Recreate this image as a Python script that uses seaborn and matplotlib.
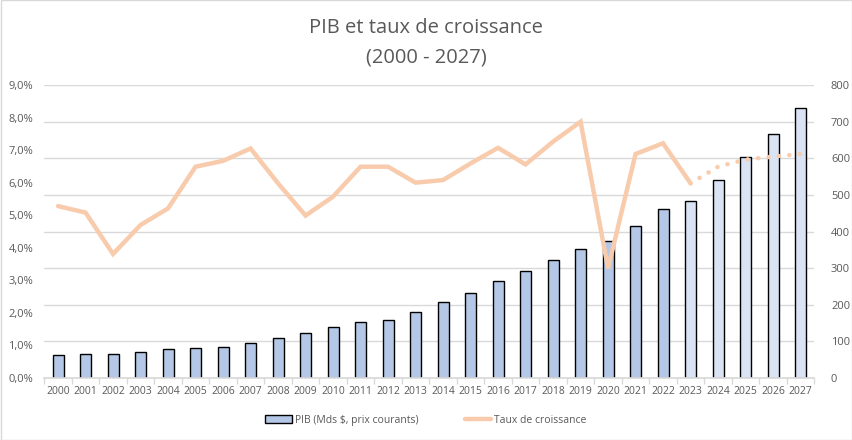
import numpy as np
import pandas as pd
import matplotlib
matplotlib.use("Agg")
import matplotlib.pyplot as plt
import seaborn as sns
from matplotlib.patches import Patch, Rectangle
from matplotlib.lines import Line2D
from matplotlib.ticker import FuncFormatter, FixedLocator

years = list(range(2000, 2028))
gdp = [62, 65, 65, 70, 78, 81, 84, 95, 108, 122, 138, 152, 157, 179,
       207, 231, 264, 291, 321, 351, 373, 414, 461, 482, 540, 603, 665, 736]
growth = [5.28, 5.08, 3.81, 4.70, 5.21, 6.49, 6.67, 7.05, 5.98, 4.99, 5.57, 6.49, 6.49, 6.00,
          6.08, 6.59, 7.07, 6.56, 7.26, 7.87, 3.37, 6.88, 7.21, 5.98, 6.49, 6.71, 6.80, 6.88]
first_forecast_bar = 2023
first_forecast_line = 2023

sns.set_theme(style="white")
plt.rcParams['font.family'] = ['Open Sans', 'DejaVu Sans']
txt = "#595959"

df = pd.DataFrame({"year": [str(y) for y in years], "gdp": gdp, "growth": growth})
colors = ["#b4c7e7" if y < first_forecast_bar else "#dae3f3" for y in years]

fig = plt.figure(figsize=(8.52, 4.40), dpi=100)
ax = fig.add_axes([44.3/852, 1-378/440, (814.3-44.3)/852, (378-85)/440])

sns.barplot(data=df, x="year", y="gdp", hue="year", palette=colors, legend=False,
            edgecolor="black", linewidth=1.0, width=0.4, saturation=1, ax=ax, zorder=2)
ax2 = ax.twinx()

ax.set_ylim(0, 800)
ax.set_xlim(-0.5, len(years) - 0.5)
ax.yaxis.tick_right()
ax.set_yticks(range(0, 801, 100))
ax.grid(axis="y", color="#d9d9d9", linewidth=1, zorder=0)
ax.set_axisbelow(True)
ax.set_xlabel("")
ax.set_ylabel("")
for s in ["top", "left", "right"]:
    ax.spines[s].set_visible(False)
ax.spines["bottom"].set_color("#d9d9d9")
ax.tick_params(axis="y", which="both", length=0, labelsize=8, labelcolor=txt, pad=12,
               left=False, labelleft=False, right=False, labelright=True)
ax.tick_params(axis="x", which="major", length=0, labelsize=7.5, labelcolor=txt, pad=6)
ax.xaxis.set_minor_locator(FixedLocator(np.arange(-0.5, len(years), 1.0)))
ax.tick_params(axis="x", which="minor", length=4, color="#d9d9d9", bottom=True)

x = np.arange(len(years))
k = years.index(first_forecast_line)
ax2.plot(x[:k+1], growth[:k+1], color="#f8cbad", linewidth=3.2, solid_joinstyle="miter", zorder=3)
ax2.plot(x[k:], growth[k:], color="#f8cbad", linewidth=3.2, linestyle=(0, (0.05, 2.3)),
         dash_capstyle="round", zorder=3)
ax2.set_ylim(0, 9)
ax2.set_yticks(range(0, 10))
ax2.yaxis.set_major_formatter(FuncFormatter(lambda v, p: f"{v:.1f}%".replace(".", ",")))
ax2.tick_params(axis="y", length=0, labelsize=8, labelcolor=txt, pad=8,
                left=False, labelleft=True, right=False, labelright=False)
for s in ax2.spines.values():
    s.set_visible(False)
ax2.grid(False)

fig.text(0.5, 1 - 28/440, "PIB et taux de croissance", ha="center", va="center", fontsize=14.5, color=txt)
fig.text(0.5, 1 - 57/440, "(2000 - 2027)", ha="center", va="center", fontsize=14.5, color=txt)

handles = [Patch(facecolor="#b4c7e7", edgecolor="black", linewidth=1.0),
           Line2D([0], [0], color="#f8cbad", linewidth=3.2)]
fig.legend(handles, ["PIB (Mds $, prix courants)", "Taux de croissance"], loc="center",
           bbox_to_anchor=(0.5, 1 - 420/440), ncol=2, frameon=False, fontsize=7.5,
           labelcolor=txt, handlelength=2.5, handletextpad=0.3, columnspacing=4.5)

fig.patches.append(Rectangle((0.5/852, 0.5/440), 1 - 1/852, 1 - 1/440, transform=fig.transFigure,
                             fill=False, edgecolor="#d9d9d9", linewidth=1))
fig.savefig("out.png", dpi=100, facecolor="white")
